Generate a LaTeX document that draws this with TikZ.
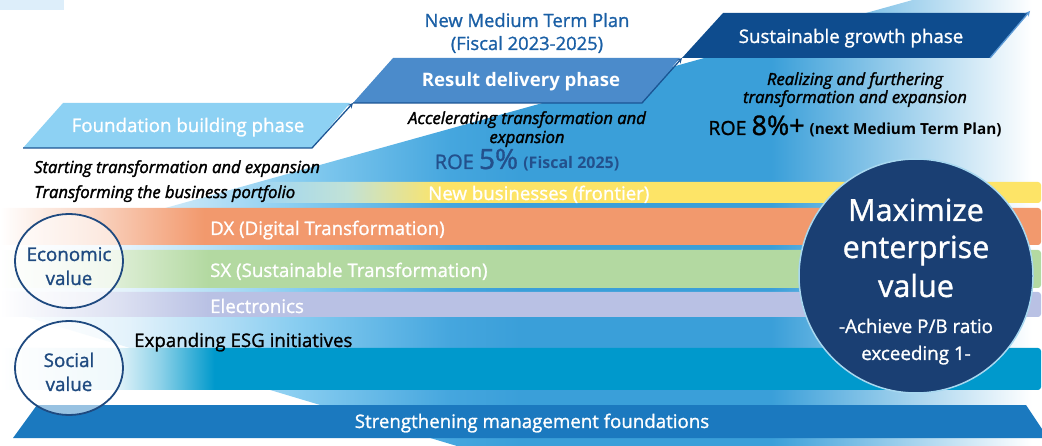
\documentclass[tikz,border=0pt]{standalone}
\usepackage{fontspec}
\setmainfont{Open Sans}[UprightFeatures={FakeBold=1.2},ItalicFeatures={FakeBold=1.8}]
\usetikzlibrary{arrows}
\usetikzlibrary{shapes.geometric}
\definecolor{wedgeblue}{HTML}{3A9FD9}
\definecolor{wedgelight}{HTML}{E3F2FB}
\definecolor{wedgemid}{HTML}{86CCF0}
\definecolor{wedgedeep}{HTML}{45A6DE}
\definecolor{fbblue}{HTML}{8DD1F3}
\definecolor{rdblue}{HTML}{4B8BCB}
\definecolor{sgblue}{HTML}{0E4C8E}
\definecolor{arrowblue}{HTML}{1B5594}
\definecolor{tipblue}{HTML}{5C9AD6}
\definecolor{planblue}{HTML}{1A5FA5}
\definecolor{roeblue}{HTML}{23508C}
\definecolor{navy}{HTML}{1A3F73}
\definecolor{ringblue}{HTML}{A8D8F0}
\definecolor{ovalnavy}{HTML}{1F4A80}
\definecolor{nbyellow}{HTML}{FDE467}
\definecolor{nbstart}{HTML}{9FD6F3}
\definecolor{nbgreen}{HTML}{C2E2D6}
\definecolor{dxorange}{HTML}{F2996D}
\definecolor{sxgreen}{HTML}{B3D9A1}
\definecolor{eclav}{HTML}{B9C1E4}
\definecolor{esgteal}{HTML}{0099CC}
\definecolor{mgmtblue}{HTML}{1B79BF}
\definecolor{cornerblue}{HTML}{DDEEFA}
\pgfdeclarehorizontalshading{wedgeshade}{100bp}{color(0bp)=(white); color(25bp)=(white); color(31.2bp)=(wedgelight); color(39.4bp)=(wedgemid); color(46.6bp)=(wedgedeep); color(50bp)=(wedgeblue); color(62bp)=(wedgeblue); color(74.5bp)=(white); color(100bp)=(white)}
\pgfdeclarehorizontalshading{nbshade}{100bp}{color(0bp)=(nbstart); color(25bp)=(nbstart); color(30.5bp)=(nbgreen); color(36.5bp)=(nbyellow); color(100bp)=(nbyellow)}
\pgfdeclarehorizontalshading{dxshade}{100bp}{color(0bp)=(white); color(25bp)=(white); color(29.3bp)=(dxorange!40!white); color(34.8bp)=(dxorange); color(100bp)=(dxorange)}
\pgfdeclarehorizontalshading{sxshade}{100bp}{color(0bp)=(white); color(25bp)=(white); color(30.3bp)=(sxgreen!40!white); color(35bp)=(sxgreen); color(100bp)=(sxgreen)}
\pgfdeclarehorizontalshading{ecshade}{100bp}{color(0bp)=(white); color(25bp)=(white); color(30.8bp)=(eclav!50!white); color(35bp)=(eclav); color(100bp)=(eclav)}
\pgfdeclarehorizontalshading{esgshade}{100bp}{color(0bp)=(white); color(25bp)=(white); color(30.8bp)=(esgteal!14!white); color(32.7bp)=(esgteal!45!white); color(35.3bp)=(esgteal); color(100bp)=(esgteal)}
\newcommand{\pxsize}[1]{\fontsize{#1}{#1}\selectfont}
\tikzset{
  phaselabel/.style={anchor=base, inner sep=0pt, text=white, font=\pxsize{18.7}},
  plantext/.style={anchor=base, inner sep=0pt, text=planblue, font=\pxsize{18.4}},
  notetext/.style={anchor=base, inner sep=0pt, text=black, font=\itshape\pxsize{16.6}},
  bandlabel/.style={anchor=base west, inner sep=0pt, text=white, font=\pxsize{18.7}},
  ovaltext/.style={anchor=base, inner sep=0pt, text=ovalnavy, font=\pxsize{18.8}},
  phasearrow/.style={draw=arrowblue, line width=1.3pt, -stealth},
  valueoval/.style={ellipse, draw=ovalnavy, line width=1.8pt, fill=white, fill opacity=0.55, minimum width=108pt, minimum height=94pt, inner sep=0pt},
}

\begin{document}
\begin{tikzpicture}[x=1pt,y=-1pt]
      \useasboundingbox (0,0) rectangle (1042,446);
      \clip (0,0) rectangle (1042,446);
      \fill[cornerblue] (0,0) rectangle (64,10);
      % rising background
      \shade[shading=wedgeshade] (0,254) -- (1042,-36) -- (1042,446) -- (457,446) -- (0,309) -- cycle;
      % business bands
      \shade[shading=nbshade, rounded corners=3pt] (262,182) rectangle (1041,203);
      \shade[shading=dxshade, rounded corners=3pt] (0,208) rectangle (1041,245);
      \shade[shading=sxshade, rounded corners=3pt] (0,250) rectangle (1041,288);
      \shade[shading=ecshade, rounded corners=3pt] (0,292) rectangle (1041,317);
      \shade[shading=esgshade, rounded corners=3pt] (0,348) rectangle (1041,390);
      \fill[mgmtblue] (13,438) -- (37,405) -- (1026,405) -- (1048,438) -- cycle;
      % phase boxes
      \coordinate (fb-bl) at (23,148);
      \coordinate (fb-br) at (312,148);
      \coordinate (rd-bl) at (353,103);
      \coordinate (rd-br) at (642,103);
      \coordinate (sg-bl) at (682,58);
      \coordinate (sg-br) at (990,58);
      \coordinate (sg-tip) at (1030,11);
      \fill[fbblue] (fb-bl) -- (63,103) -- (350,103) -- (fb-br) -- cycle;
      \fill[rdblue] (rd-bl) -- (393,58) -- (680,58) -- (rd-br) -- cycle;
      \fill[sgblue] (sg-bl) -- (723,13) -- (1028,13) -- (sg-br) -- cycle;
      \draw[phasearrow] (fb-bl) -- (fb-br) -- (rd-bl);
      \draw[phasearrow] (rd-bl) -- (rd-br) -- (sg-bl);
      \draw[phasearrow, draw=tipblue] (sg-br) -- (sg-tip);
      % value ovals and goal
      \node[valueoval] (econ) at (69,261) {};
      \node[valueoval] (social) at (69,368) {};
      \node[circle, fill=navy, draw=ringblue, line width=1.5pt, minimum size=234pt, inner sep=0pt] (goal) at (916,276) {};
      % texts
      \node[phaselabel] (fb-text) at (188,132) {Foundation building phase};
      \node[phaselabel, font=\bfseries\pxsize{18.6}] (rd-text) at (521,87) {Result delivery phase};
      \node[phaselabel] (sg-text) at (851,43) {Sustainable growth phase};
      \node[plantext] (plan-a) at (527,27) {New Medium Term Plan};
      \node[plantext] (plan-b) at (527,50) {(Fiscal 2023-2025)};
      \node[notetext] (acc-a) at (527,124) {Accelerating transformation and};
      \node[notetext] (acc-b) at (527,143) {expansion};
      \node[anchor=base, inner sep=0pt, text=roeblue] (roe-a) at (527,169) {\pxsize{20}ROE {\pxsize{28}5\%} {\bfseries\pxsize{16}(Fiscal 2025)}};
      \node[notetext] (real-a) at (855,85) {Realizing and furthering};
      \node[notetext] (real-b) at (855,103) {transformation and expansion};
      \node[anchor=base, inner sep=0pt, text=black] (roe-b) at (855,135) {\pxsize{19.5}ROE {\pxsize{27}8\%+} {\bfseries\pxsize{15.3}(next Medium Term Plan)}};
      \node[notetext, anchor=base west] (start) at (34,173) {Starting transformation and expansion};
      \node[notetext, anchor=base west] (portfolio) at (34,198) {Transforming the business portfolio};
      \node[bandlabel] (nb-text) at (428,200) {New businesses (frontier)};
      \node[bandlabel] (dx-text) at (210,235) {DX (Digital Transformation)};
      \node[bandlabel] (sx-text) at (210,277) {SX (Sustainable Transformation)};
      \node[bandlabel] (ec-text) at (210,313) {Electronics};
      \node[bandlabel, text=black] (esg-text) at (134,347) {Expanding ESG initiatives};
      \node[bandlabel, anchor=base] (mgmt-text) at (532,428) {Strengthening management foundations};
      \node[ovaltext] (econ-a) at (69,261) {Economic};
      \node[ovaltext] (econ-b) at (69,285) {value};
      \node[ovaltext] (social-a) at (69,367) {Social};
      \node[ovaltext] (social-b) at (69,391) {value};
      \node[phaselabel, font=\pxsize{30.5}] (goal-a) at (916,221) {Maximize};
      \node[phaselabel, font=\pxsize{30.5}] (goal-b) at (916,258) {enterprise};
      \node[phaselabel, font=\pxsize{30.5}] (goal-c) at (916,297) {value};
      \node[phaselabel, font=\pxsize{18.8}] (goal-d) at (916,333) {-Achieve P/B ratio};
      \node[phaselabel, font=\pxsize{18.8}] (goal-e) at (916,360) {exceeding 1-};
    \end{tikzpicture}
\end{document}
